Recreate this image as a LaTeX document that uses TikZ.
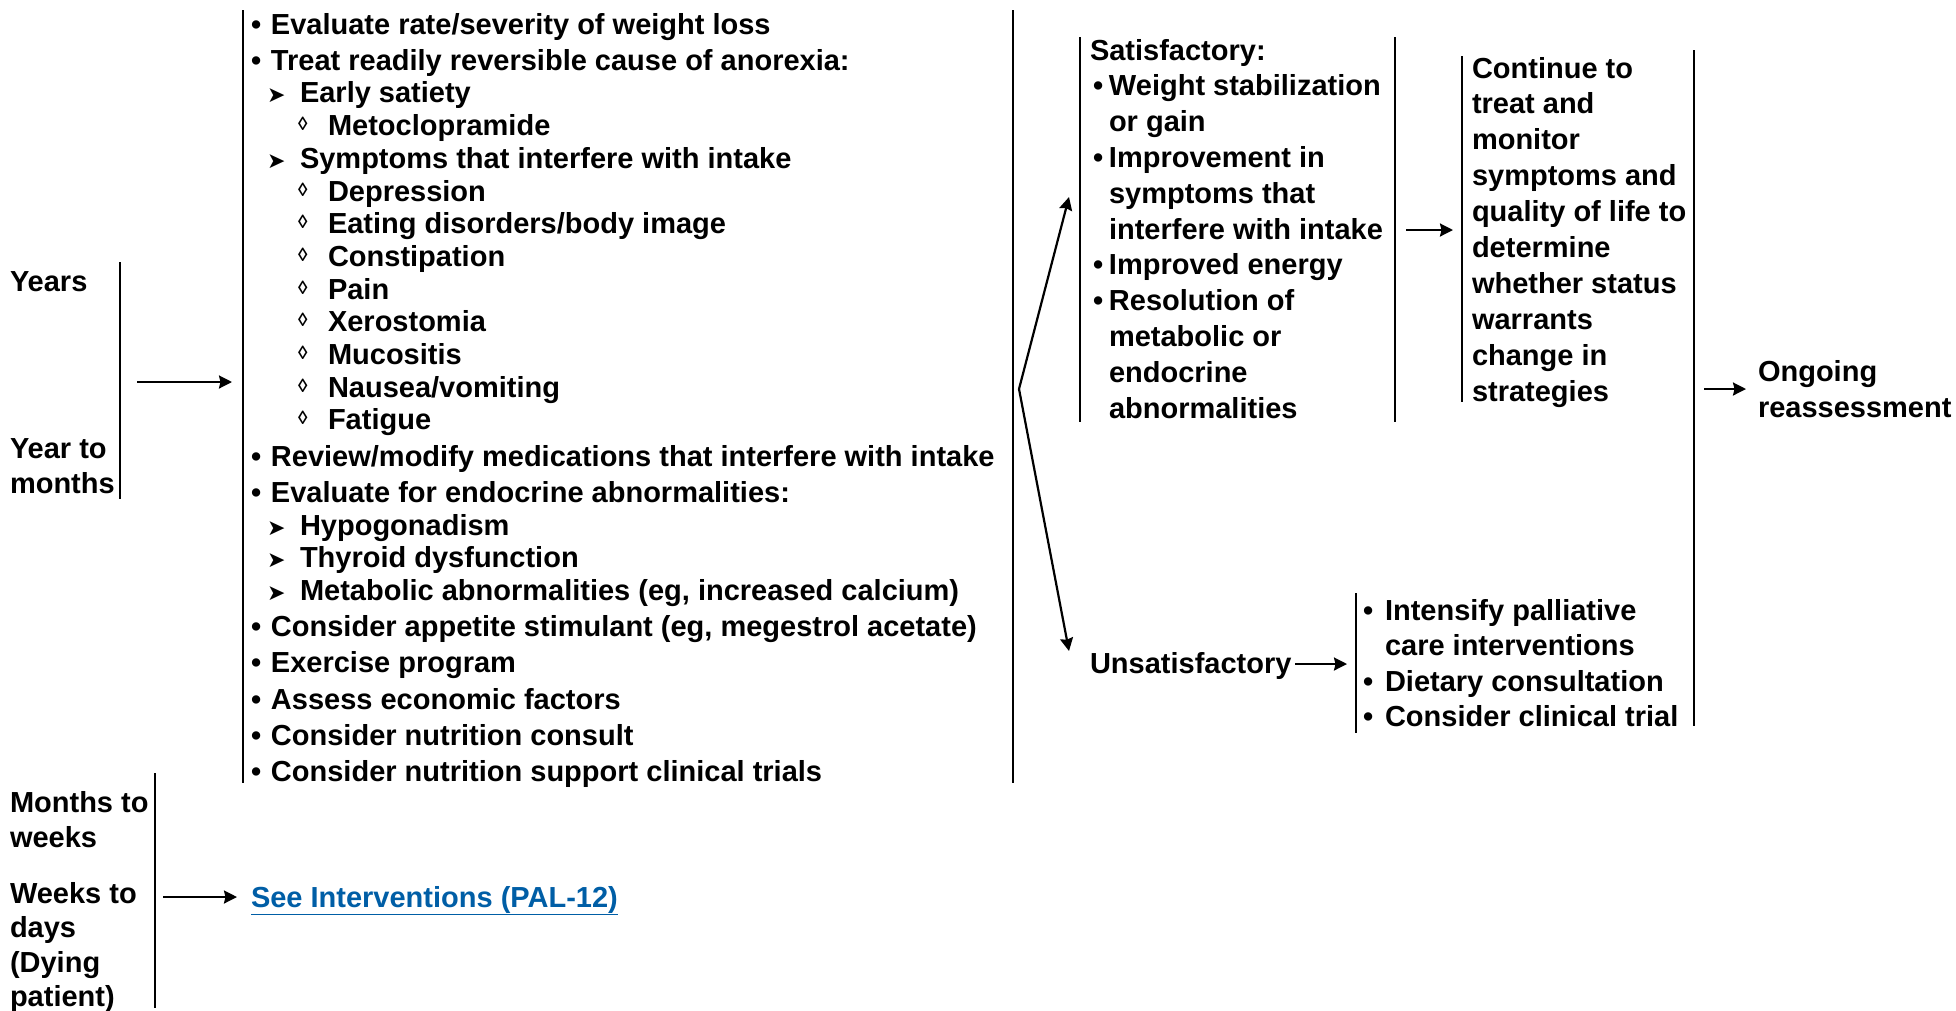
\documentclass[tikz,border=0pt]{standalone}
\usepackage{fontspec}
\setmainfont{Liberation Sans}
\newfontfamily\dejavu{DejaVu Sans}
\usetikzlibrary{arrows.meta}
\definecolor{linkblue}{RGB}{0,94,166}
\newcommand\fst{\rule{0pt}{22pt}}
\newcommand\bul{•}
\newcommand\arrmk{\raisebox{0pt}{\dejavu\fontsize{22}{22}\selectfont ➤}}
\newcommand\diamk{\raisebox{5pt}{\bfseries\fontsize{19}{19}\selectfont ◊}}
\newcommand\itemA[1]{\makebox[20pt][l]{\bul}#1}
\newcommand\itemB[1]{\hspace*{16pt}\makebox[33pt][l]{\arrmk}#1}
\newcommand\itemC[1]{\hspace*{47pt}\makebox[30pt][l]{\diamk}#1}
\newcommand\satA[1]{\hspace*{3pt}\makebox[16pt][l]{\bul}#1}
\newcommand\satC[1]{\hspace*{19pt}#1}
\newcommand\unA[1]{\makebox[22pt][l]{\bul}#1}
\newcommand\unC[1]{\hspace*{22pt}#1}
\begin{document}
\begin{tikzpicture}[x=1pt,y=-1pt,
  txt/.style={anchor=north west, inner sep=0pt, outer sep=0pt, align=left,
    font=\fontsize{29}{35.6}\selectfont\bfseries},
  bar/.style={line width=2.2pt},
  arr/.style={-{Stealth[length=13pt,width=13pt,inset=1.5pt]}, line width=2.2pt}]
\useasboundingbox (0,0) rectangle (1956,1010);

% time labels
\node[txt] (years) at (10,269) {\fst Years};
\node[txt] (ytm) at (10,436) {\fst Year to\\months};
\node[txt] (mtw) at (10,790) {\fst Months to\\weeks};
\node[txt, font=\fontsize{29}{34.5}\selectfont\bfseries] (wtd) at (10,881) {\fst Weeks to\\days\\(Dying\\patient)};

% main list
\node[txt, font=\fontsize{29}{32.7}\selectfont\bfseries] (list) at (251,12) {%
\fst\itemA{Evaluate rate/severity of weight loss}\\[3.5pt]
\itemA{Treat readily reversible cause of anorexia:}\\
\itemB{Early satiety}\\
\itemC{Metoclopramide}\\
\itemB{Symptoms that interfere with intake}\\
\itemC{Depression}\\
\itemC{Eating disorders/body image}\\
\itemC{Constipation}\\
\itemC{Pain}\\
\itemC{Xerostomia}\\
\itemC{Mucositis}\\
\itemC{Nausea/vomiting}\\
\itemC{Fatigue}\\[3.5pt]
\itemA{Review/modify medications that interfere with intake}\\[3.5pt]
\itemA{Evaluate for endocrine abnormalities:}\\
\itemB{Hypogonadism}\\
\itemB{Thyroid dysfunction}\\
\itemB{Metabolic abnormalities (eg, increased calcium)}\\[3.5pt]
\itemA{Consider appetite stimulant (eg, megestrol acetate)}\\[3.5pt]
\itemA{Exercise program}\\[3.5pt]
\itemA{Assess economic factors}\\[3.5pt]
\itemA{Consider nutrition consult}\\[3.5pt]
\itemA{Consider nutrition support clinical trials}};

\node[txt, text=linkblue] (pal) at (251,885) {\fst\underline{See Interventions (PAL-12)}};

% satisfactory
\node[txt, font=\fontsize{29}{35.8}\selectfont\bfseries] (sat) at (1090,38) {%
\fst Satisfactory:\\
\satA{Weight stabilization}\\
\satC{or gain}\\
\satA{Improvement in}\\
\satC{symptoms that}\\
\satC{interfere with intake}\\
\satA{Improved energy}\\
\satA{Resolution of}\\
\satC{metabolic or}\\
\satC{endocrine}\\
\satC{abnormalities}};

\node[txt, font=\fontsize{29}{35.9}\selectfont\bfseries] (cont) at (1472,56) {%
\fst Continue to\\treat and\\monitor\\symptoms and\\quality of life to\\determine\\whether status\\warrants\\change in\\strategies};

\node[txt, font=\fontsize{29}{36}\selectfont\bfseries] (ongo) at (1758,359) {\fst Ongoing\\reassessment};

\node[txt] (unsat) at (1090,651) {\fst Unsatisfactory};

\node[txt, font=\fontsize{29}{35.5}\selectfont\bfseries] (unlist) at (1363,598) {%
\fst\unA{Intensify palliative}\\
\unC{care interventions}\\
\unA{Dietary consultation}\\
\unA{Consider clinical trial}};

% bracket lines
\draw[bar] (120,262) -- (120,499);
\draw[bar] (243,10) -- (243,783);
\draw[bar] (1013,10) -- (1013,783);
\draw[bar] (1080,37) -- (1080,422);
\draw[bar] (1395,37) -- (1395,422);
\draw[bar] (1462,56) -- (1462,402);
\draw[bar] (1694,50) -- (1694,726);
\draw[bar] (1356,593) -- (1356,733);
\draw[bar] (155,773) -- (155,1008);

% arrows
\coordinate (y0) at (137,382); \coordinate (y1) at (232,382);
\draw[arr] (y0) -- (y1);
\coordinate (w0) at (163,897); \coordinate (w1) at (237,897);
\draw[arr] (w0) -- (w1);
\coordinate (fork) at (1019,389);
\coordinate (fu) at (1069,197);
\coordinate (fd) at (1069,651);
\draw[arr] (fork) -- (fu);
\draw[arr] (fork) -- (fd);
\coordinate (s0) at (1406,230); \coordinate (s1) at (1453,230);
\draw[arr] (s0) -- (s1);
\coordinate (o0) at (1704,389); \coordinate (o1) at (1746,389);
\draw[arr] (o0) -- (o1);
\coordinate (u1) at (1347,664);
\draw[arr] (unsat.east |- u1) ++(4,0) coordinate (u0) -- (u1);
\end{tikzpicture}
\end{document}
